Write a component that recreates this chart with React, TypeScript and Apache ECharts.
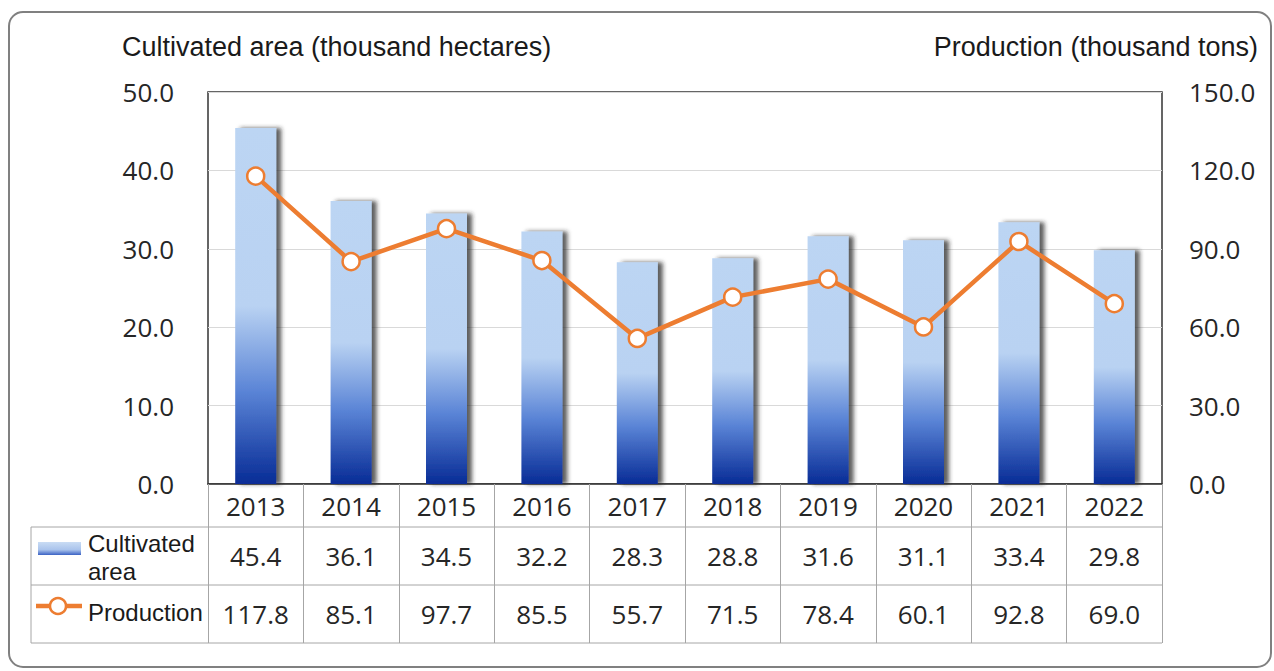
import React, { useEffect, useRef } from "react";
import * as echarts from "echarts";

const years = ["2013", "2014", "2015", "2016", "2017", "2018", "2019", "2020", "2021", "2022"];
const cultivatedArea = [45.4, 36.1, 34.5, 32.2, 28.3, 28.8, 31.6, 31.1, 33.4, 29.8];
const production = [117.8, 85.1, 97.7, 85.5, 55.7, 71.5, 78.4, 60.1, 92.8, 69.0];
const leftTitle = "Cultivated area (thousand hectares)";
const rightTitle = "Production (thousand tons)";
const areaLabel = ["Cultivated", "area"];
const productionLabel = "Production";

const W = 1274;
const H = 671;
const GL = 208;
const GR = 1162;
const GT = 92;
const GB = 484;
const ROW1 = 527;
const ROW2 = 585;
const ROW3 = 643;
const TL = 31;

const numFont = "'Open Sans', sans-serif";
const txtFont = "'Liberation Sans', Arial, sans-serif";
const ORANGE = "#ED7D31";
const GRID_LINE = "#a6a6a6";

export default function App() {
  const ref = useRef<HTMLDivElement>(null);
  useEffect(() => {
    if (!ref.current) return;
    const chart = echarts.init(ref.current, null, { renderer: "svg" });
    const option: any = {
      animation: false,
      backgroundColor: "#ffffff",
      title: [
        {
          text: leftTitle,
          left: 117,
          top: 28,
          textStyle: { fontFamily: txtFont, fontSize: 27, fontWeight: "normal", color: "#1a1a1a" },
        },
        {
          text: rightTitle,
          right: 11,
          top: 28,
          textStyle: { fontFamily: txtFont, fontSize: 27, fontWeight: "normal", color: "#1a1a1a" },
        },
      ],
      grid: {
        left: GL,
        right: W - GR,
        top: GT,
        bottom: H - GB,
        show: true,
        borderColor: "#333",
        borderWidth: 1.5,
        backgroundColor: "transparent",
        containLabel: false,
      },
      xAxis: [
        {
          type: "category",
          data: years,
          position: "bottom",
          axisLine: { show: true, lineStyle: { color: "#333", width: 1.5 } },
          axisTick: { show: true, length: ROW3 - GB, lineStyle: { color: GRID_LINE, width: 1 } },
          axisLabel: {
            verticalAlign: "middle",
            margin: (GB + ROW1) / 2 - GB,
            fontFamily: numFont,
            fontSize: 26,
            color: "#262626",
            interval: 0,
          },
        },
        {
          type: "category",
          data: years,
          position: "bottom",
          axisLine: { show: false },
          axisTick: { show: false },
          axisLabel: {
            verticalAlign: "middle",
            margin: (ROW1 + ROW2) / 2 - GB,
            fontFamily: numFont,
            fontSize: 26,
            color: "#262626",
            interval: 0,
            formatter: (_v: string, i: number) => cultivatedArea[i].toFixed(1),
          },
        },
        {
          type: "category",
          data: years,
          position: "bottom",
          axisLine: { show: false },
          axisTick: { show: false },
          axisLabel: {
            verticalAlign: "middle",
            margin: (ROW2 + ROW3) / 2 - GB,
            fontFamily: numFont,
            fontSize: 26,
            color: "#262626",
            interval: 0,
            formatter: (_v: string, i: number) => production[i].toFixed(1),
          },
        },
      ],
      yAxis: [
        {
          type: "value",
          min: 0,
          max: 50,
          interval: 10,
          axisLine: { show: false },
          axisTick: { show: false },
          splitLine: { show: true, lineStyle: { color: "#d9d9d9", width: 1 } },
          axisLabel: {
            margin: 34,
            fontFamily: numFont,
            fontSize: 26,
            color: "#262626",
            formatter: (v: number) => v.toFixed(1),
          },
        },
        {
          type: "value",
          min: 0,
          max: 150,
          interval: 30,
          position: "right",
          axisLine: { show: false },
          axisTick: { show: false },
          splitLine: { show: false },
          axisLabel: {
            margin: 27,
            fontFamily: numFont,
            fontSize: 26,
            color: "#262626",
            formatter: (v: number) => v.toFixed(1),
          },
        },
      ],
      series: [
        {
          name: "Cultivated area",
          type: "bar",
          data: cultivatedArea,
          xAxisIndex: 0,
          yAxisIndex: 0,
          barWidth: 41,
          itemStyle: {
            color: new echarts.graphic.LinearGradient(0, 0, 0, 1, [
              { offset: 0, color: "#bcd5f3" },
              { offset: 0.5, color: "#b9d2f2" },
              { offset: 0.74, color: "#5a84d6" },
              { offset: 1, color: "#082c96" },
            ]),
            shadowColor: "rgba(40,40,40,0.75)",
            shadowOffsetX: 5,
            shadowOffsetY: 0,
            shadowBlur: 4,
          },
          z: 2,
        },
        {
          name: "Production",
          type: "line",
          data: production,
          xAxisIndex: 0,
          yAxisIndex: 1,
          symbol: "circle",
          symbolSize: 17,
          lineStyle: { color: ORANGE, width: 4.5 },
          itemStyle: { color: "#ffffff", borderColor: ORANGE, borderWidth: 2.5 },
          z: 5,
        },
      ],
      graphic: [
        {
          type: "rect",
          silent: true,
          shape: { x: 9, y: 12, width: 1262, height: 655, r: 14 },
          style: { fill: "none", stroke: "#808080", lineWidth: 2 },
        },
        {
          type: "line",
          silent: true,
          shape: { x1: TL, y1: ROW1, x2: GR, y2: ROW1 },
          style: { stroke: GRID_LINE, lineWidth: 1 },
        },
        {
          type: "line",
          silent: true,
          shape: { x1: TL, y1: ROW2, x2: GR, y2: ROW2 },
          style: { stroke: GRID_LINE, lineWidth: 1 },
        },
        {
          type: "line",
          silent: true,
          shape: { x1: TL, y1: ROW3, x2: GR, y2: ROW3 },
          style: { stroke: GRID_LINE, lineWidth: 1 },
        },
        {
          type: "line",
          silent: true,
          shape: { x1: TL, y1: ROW1, x2: TL, y2: ROW3 },
          style: { stroke: GRID_LINE, lineWidth: 1 },
        },
        {
          type: "rect",
          silent: true,
          shape: { x: 38, y: 542, width: 43, height: 13 },
          style: {
            fill: new echarts.graphic.LinearGradient(0, 0, 0, 1, [
              { offset: 0, color: "#c9dcf4" },
              { offset: 0.6, color: "#a9c3ec" },
              { offset: 1, color: "#3b62c4" },
            ]),
          },
        },
        {
          type: "text",
          silent: true,
          style: {
            x: 88,
            y: 531,
            text: areaLabel[0],
            fontFamily: txtFont,
            fontSize: 24,
            fill: "#1a1a1a",
          },
        },
        {
          type: "text",
          silent: true,
          style: {
            x: 88,
            y: 559,
            text: areaLabel[1],
            fontFamily: txtFont,
            fontSize: 24,
            fill: "#1a1a1a",
          },
        },
        {
          type: "line",
          silent: true,
          shape: { x1: 36, y1: 606, x2: 82, y2: 606 },
          style: { stroke: ORANGE, lineWidth: 4.5 },
        },
        {
          type: "circle",
          silent: true,
          shape: { cx: 58, cy: 606, r: 8 },
          style: { fill: "#ffffff", stroke: ORANGE, lineWidth: 2.5 },
        },
        {
          type: "text",
          silent: true,
          style: {
            x: 88,
            y: 612,
            text: productionLabel,
            fontFamily: txtFont,
            fontSize: 24,
            fill: "#1a1a1a",
            verticalAlign: "middle",
          },
        },
      ],
    };
    chart.setOption(option);
    return () => chart.dispose();
  }, []);
  return (
    <div
      ref={ref}
      style={{ position: "fixed", left: 0, top: 0, width: W, height: H, background: "#fff" }}
    />
  );
}
